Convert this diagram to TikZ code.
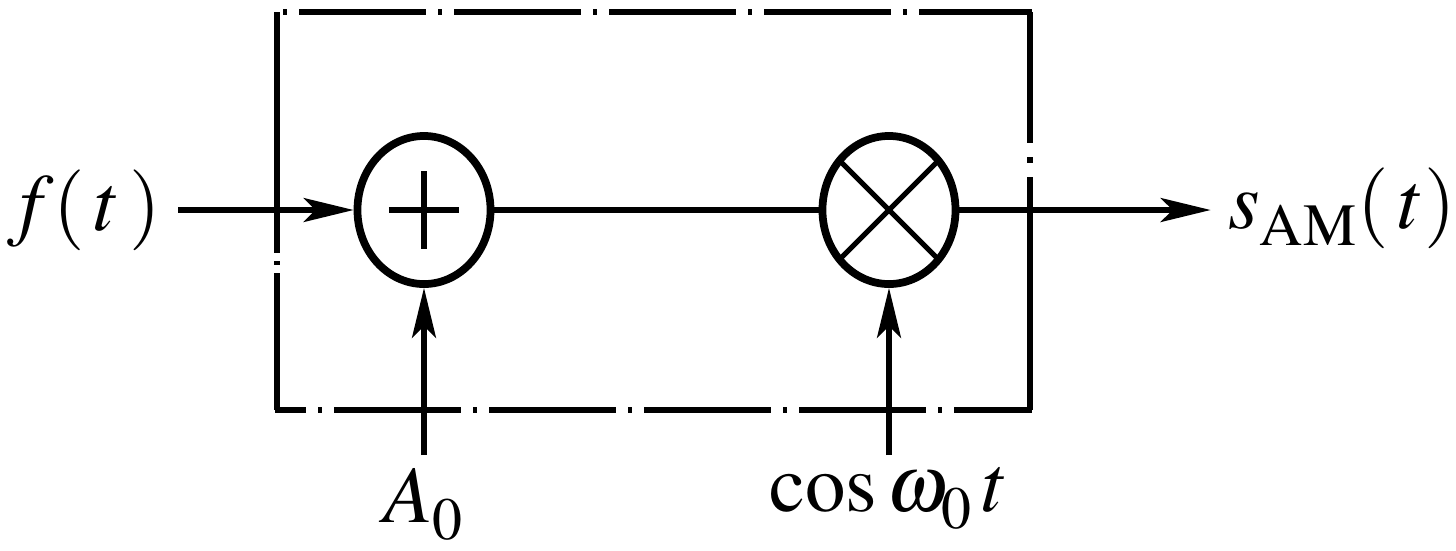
\documentclass[tikz,border=0pt]{standalone}
\usepackage{mathptmx}
\usetikzlibrary{arrows.meta,shapes.geometric}
\newcommand\lowsub[1]{\lower1.5pt\hbox{$\scriptstyle #1$}}

\begin{document}
\begin{tikzpicture}[x=0.01cm,y=-0.01cm,line width=1.5pt,
  >={Stealth[length=0.5cm,width=0.24cm,inset=0.12cm]},
  frame/.style={line width=1.5pt},
  junction/.style={draw,ellipse,line width=2.2pt,minimum width=1.33cm,minimum height=1.48cm,inner sep=0pt},
  signal/.style={inner sep=0.15cm,font=\fontsize{23}{28}\selectfont}]
\useasboundingbox (0,0) rectangle (1456,550);

\draw[frame,dash pattern=on 1.27cm off 0.12cm on 0.04cm off 0.12cm,dash phase=1.31cm] (275,12) -- (1032,12);
\draw[frame,dash pattern=on 1.27cm off 0.12cm on 0.04cm off 0.12cm,dash phase=0.96cm] (275,410) -- (1032,410);
\draw[frame,dash pattern=on 2.41cm off 0.08cm on 0.04cm off 0.08cm on 3cm off 0cm] (277,12) -- (277,410);
\draw[frame,dash pattern=on 1.31cm off 0.14cm on 0.06cm off 0.14cm on 3cm off 0cm] (1030,12) -- (1030,410);

\node[junction] (sum) at (424,210) {};
\draw[line width=1.7pt] ([xshift=-0.35cm]sum.center) -- ([xshift=0.35cm]sum.center);
\draw[line width=1.7pt] ([yshift=0.385cm]sum.center) -- ([yshift=-0.385cm]sum.center);
\node[junction,path picture={
  \draw[line width=1.5pt] (path picture bounding box.center) ++(-1cm,-1cm) -- ++(2cm,2cm);
  \draw[line width=1.5pt] (path picture bounding box.center) ++(-1cm,1cm) -- ++(2cm,-2cm);}] (mul) at (889,210) {};

\node[signal] (fin) at (84,210) {$f(\,t\,)$};
\node[signal] (sout) at (1342,208) {$s_{\lowsub{\mathrm{AM}}}(\,t)$};
\node[signal,anchor=north,inner sep=0.1cm] (a0) at (424,455) {$A_{\lowsub{0}}$};
\node[signal,anchor=north,inner sep=0.1cm] (carrier) at (889,455) {$\cos\omega_{\lowsub{0}}\,t$};

\draw[->] (fin) -- (sum);
\draw (sum) -- (mul);
\draw[->] (mul) -- (sout.west |- mul);
\draw[->] (a0) -- (sum);
\draw[->] (carrier) -- (mul);
\end{tikzpicture}
\end{document}
